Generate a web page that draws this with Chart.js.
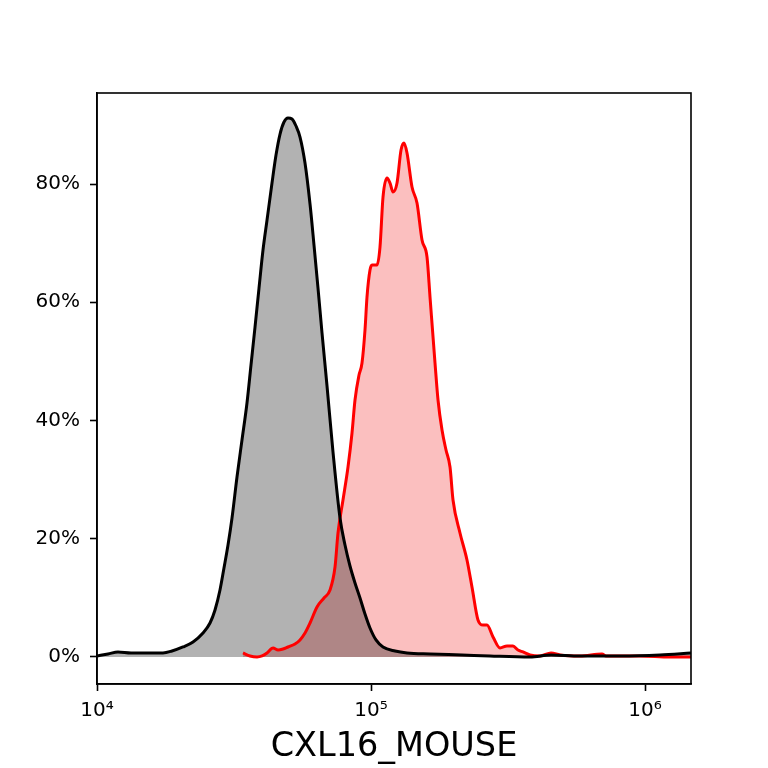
<!DOCTYPE html>
<html>
<head>
<meta charset="utf-8">
<script src="https://cdn.jsdelivr.net/npm/chart.js@4/dist/chart.umd.min.js"></script>
<style>
html,body{margin:0;padding:0;background:#fff;}
#wrap{width:768px;height:768px;}
</style>
</head>
<body>
<div id="wrap"><canvas id="c" width="768" height="768"></canvas></div>
<script>
// Control (isotype) histogram: intensity and % of max
const controlX = [10000,10970,11930,13310,14970,17410,18780,20600,22410,24370,25850,26960,28110,29070,30070,31100,32430,33820,35270,36480,37730,39020,40350,41740,43520,45010,46560,48140,49780,51490,53250,55070,57430,59900,61940,64060,66260,69100,72670,77070,80370,83820,87420,91180,95080,99160,104290,110620,122370,135350,164200,214830,271900,380470,453890,579000,810370,1134200,1471900];
const controlY = [0.17,0.51,0.85,0.68,0.68,0.68,1.01,1.69,2.54,4.06,5.75,7.95,11.33,15.05,18.94,23.51,30.44,36.70,42.96,49.39,55.81,62.41,68.84,73.91,80.17,84.90,88.46,90.49,91.17,91.00,89.82,87.95,83.55,76.62,69.68,62.41,54.80,45.84,34.67,23.51,18.94,15.39,12.52,9.98,7.27,4.90,2.88,1.69,1.01,0.68,0.51,0.34,0.17,0,0.34,0.17,0.17,0.34,0.68];
// CXL16_MOUSE stained histogram
const stainX = [34110,36180,38370,40020,41740,43900,45780,47750,49780,52800,55070,57430,59900,63530,67380,70860,73900,75780,79030,82430,85250,87420,90420,92720,95080,96690,99160,100840,105170,107850,110620,114420,117340,120330,124440,128700,131980,135350,141150,147200,153520,160110,164200,171250,175620,181620,187830,194250,199200,211250,224030,233640,245730,256280,265050,278830,295680,313590,329800,343960,358720,380470,413890,453890,489510,579000,696720,720530,958860,1233900,1471900];
const stainY = [0.68,0.17,0,0.17,0.68,1.52,1.18,1.35,1.69,2.20,2.88,4.06,5.75,8.46,9.98,11.33,15.22,20.97,26.55,32.13,37.89,43.47,47.69,49.72,55.31,60.89,65.45,66.30,66.30,69.34,77.80,81.01,80.17,78.65,80.17,85.75,86.93,85.24,79.49,76.78,70.53,67.65,60.89,49.72,43.47,38.39,35.01,32.13,26.55,20.97,16.41,11.84,6.26,5.41,5.41,3.38,1.52,1.86,1.86,1.18,0.85,0.34,0.17,0.68,0.34,0.17,0.51,0.17,0.17,0,0];
const xTicks = [10000,100000,1000000];
const xTickLabels = ['10\u2074','10\u2075','10\u2076'];
const yTicks = [0,20,40,60,80];
const axisTitle = 'CXL16_MOUSE';

const toPts = (xs, ys) => xs.map((x, i) => ({x: x, y: ys[i]}));

Chart.defaults.font.family = "'DejaVu Sans', sans-serif";
Chart.defaults.color = '#000';

const frame = {
  id: 'frame',
  afterDraw(chart) {
    const a = chart.chartArea, ctx = chart.ctx;
    ctx.save();
    ctx.strokeStyle = '#000';
    ctx.lineWidth = 1.6;
    ctx.strokeRect(a.left, a.top, a.right - a.left, a.bottom - a.top);
    ctx.restore();
  }
};

new Chart(document.getElementById('c'), {
  type: 'line',
  data: {
    datasets: [
      {
        data: toPts(controlX, controlY),
        borderColor: '#000000',
        backgroundColor: 'rgba(0,0,0,0.3)',
        borderWidth: 3,
        pointRadius: 0,
        cubicInterpolationMode: 'monotone',
        fill: 'origin'
      },
      {
        data: toPts(stainX, stainY),
        borderColor: '#ff0000',
        backgroundColor: 'rgba(240,0,0,0.25)',
        borderWidth: 3,
        pointRadius: 0,
        cubicInterpolationMode: 'monotone',
        fill: 'origin'
      }
    ]
  },
  options: {
    responsive: false,
    animation: false,
    devicePixelRatio: 1,
    layout: {padding: {top: 93, right: 77, left: 0, bottom: 0}},
    plugins: {
      legend: {display: false},
      tooltip: {enabled: false},
      filler: {drawTime: 'beforeDatasetsDraw'}
    },
    scales: {
      x: {
        type: 'logarithmic',
        min: 10000,
        max: 1471900,
        afterBuildTicks(s) { s.ticks = xTicks.map(v => ({value: v, major: true})); },
        afterFit(s) { s.height = 84; },
        ticks: {
          autoSkip: false,
          maxRotation: 0,
          padding: 8,
          font: {size: 20},
          color: '#000',
          callback(v) { const i = xTicks.indexOf(v); return i >= 0 ? xTickLabels[i] : ''; }
        },
        grid: {drawOnChartArea: false, drawTicks: true, tickLength: 7, tickWidth: 1.6, color: '#000'},
        border: {display: true, color: '#000', width: 1.6},
        title: {display: true, text: axisTitle, font: {size: 33.5}, color: '#000', padding: {top: 0, bottom: 1}}
      },
      y: {
        type: 'linear',
        min: -4.57,
        max: 95.4,
        afterBuildTicks(s) { s.ticks = yTicks.map(v => ({value: v})); },
        afterFit(s) { s.width = 97; },
        ticks: {
          padding: 10,
          font: {size: 20},
          color: '#000',
          callback(v) { return v + '%'; }
        },
        grid: {drawOnChartArea: false, drawTicks: true, tickLength: 7, tickWidth: 1.6, color: '#000'},
        border: {display: true, color: '#000', width: 1.6}
      }
    }
  },
  plugins: [frame]
});
</script>
</body>
</html>
